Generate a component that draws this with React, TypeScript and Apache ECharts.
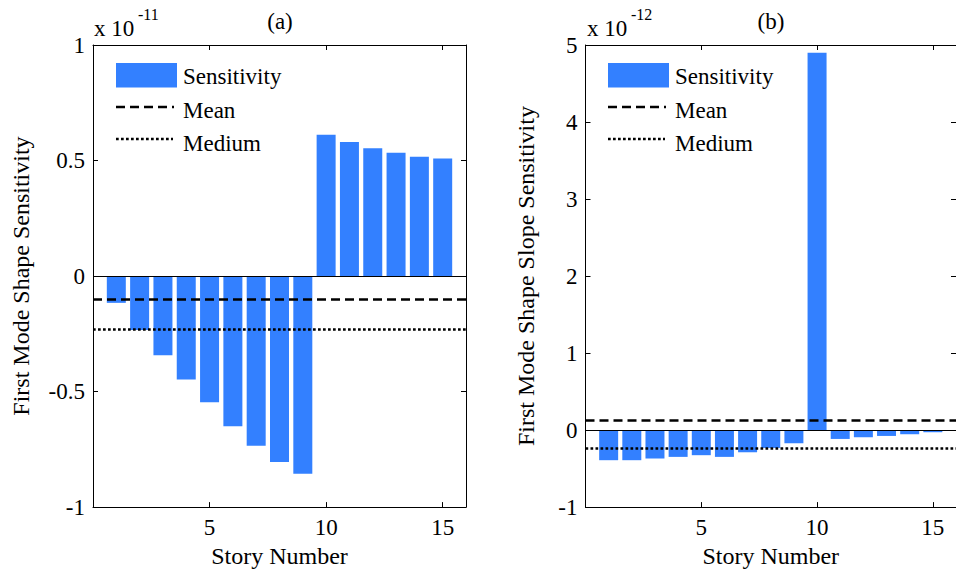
import React, { useEffect, useRef } from "react";
import * as echarts from "echarts";

// Story numbers (x axis)
const storyNumbers = [1, 2, 3, 4, 5, 6, 7, 8, 9, 10, 11, 12, 13, 14, 15];
// (a) first mode shape sensitivity, in units of 1e-11
const shapeSensitivity = [
  -0.116, -0.233, -0.343, -0.448, -0.546, -0.65, -0.734, -0.805, -0.856,
  0.612, 0.58, 0.553, 0.534, 0.516, 0.509,
];
const shapeMean = -0.097;
const shapeMedium = -0.233;
// (b) first mode shape slope sensitivity, in units of 1e-12
const slopeSensitivity = [
  -0.391, -0.391, -0.369, -0.348, -0.326, -0.348, -0.288, -0.232, -0.171,
  4.9, -0.115, -0.093, -0.076, -0.054, -0.028,
];
const slopeMean = 0.127;
const slopeMedium = -0.228;

const xTicks = [5, 10, 15];
const shapeYTicks = [-1, -0.5, 0, 0.5, 1];
const slopeYTicks = [-1, 0, 1, 2, 3, 4, 5];

const FONT = "Times New Roman, Liberation Serif, DejaVu Serif, serif";
const BAR_COLOR = "#3380ff";

function xAxes(gridIndex: number) {
  const common = {
    type: "value" as const,
    gridIndex,
    min: 0,
    max: 16,
    interval: xTicks[1] - xTicks[0],
    splitLine: { show: false },
    axisLine: { show: true, onZero: false, lineStyle: { color: "#000", width: 1 } },
    axisTick: { show: true, inside: true, length: 5, lineStyle: { color: "#000" } },
  };
  return [
    {
      ...common,
      position: "bottom",
      name: "Story Number",
      nameLocation: "middle",
      nameGap: 35,
      nameTextStyle: { fontFamily: FONT, fontSize: 24, color: "#000" },
      axisLabel: {
        show: true,
        fontFamily: FONT,
        fontSize: 23,
        color: "#000",
        margin: 9,
        showMinLabel: false,
        showMaxLabel: false,
      },
    },
    { ...common, position: "top", axisLabel: { show: false } },
  ];
}

function yAxes(gridIndex: number, ticks: number[], name: string, gap: number) {
  const common = {
    type: "value" as const,
    gridIndex,
    min: ticks[0],
    max: ticks[ticks.length - 1],
    interval: ticks[1] - ticks[0],
    splitLine: { show: false },
    axisLine: { show: true, onZero: false, lineStyle: { color: "#000", width: 1 } },
    axisTick: { show: true, inside: true, length: 5, lineStyle: { color: "#000" } },
  };
  return [
    {
      ...common,
      position: "left",
      name,
      nameLocation: "middle",
      nameGap: gap,
      nameTextStyle: { fontFamily: FONT, fontSize: 24, color: "#000" },
      axisLabel: {
        show: true,
        fontFamily: FONT,
        fontSize: 23,
        color: "#000",
        margin: 8,
        formatter: (v: number) => String(v),
      },
    },
    { ...common, position: "right", axisLabel: { show: false } },
  ];
}

function barSeries(idx: number, values: number[], mean: number, medium: number) {
  return {
    type: "bar",
    xAxisIndex: idx * 2,
    yAxisIndex: idx * 2,
    barWidth: 19,
    itemStyle: { color: BAR_COLOR },
    data: storyNumbers.map((s, i) => [s, values[i]]),
    markLine: {
      silent: true,
      symbol: ["none", "none"],
      label: { show: false },
      animation: false,
      data: [
        { yAxis: 0, lineStyle: { color: "#000", width: 1, type: "solid" } },
        { yAxis: mean, lineStyle: { color: "#000", width: 2.5, type: [9, 5] } },
        { yAxis: medium, lineStyle: { color: "#000", width: 2.5, type: [2.7, 2.3] } },
      ],
    },
  };
}

function legendGraphics(x0: number) {
  const textStyle = { fontFamily: FONT, fontSize: 23, fill: "#000", verticalAlign: "middle" };
  return [
    { type: "rect", shape: { x: x0, y: 63, width: 61, height: 24.5 }, style: { fill: BAR_COLOR } },
    {
      type: "line",
      shape: { x1: x0, y1: 107, x2: x0 + 58, y2: 107 },
      style: { stroke: "#000", lineWidth: 2.5, lineDash: [9, 5] },
    },
    {
      type: "line",
      shape: { x1: x0, y1: 139, x2: x0 + 57, y2: 139 },
      style: { stroke: "#000", lineWidth: 2.5, lineDash: [2.7, 2.3] },
    },
    { type: "text", x: x0 + 67, y: 76, style: { ...textStyle, text: "Sensitivity" } },
    { type: "text", x: x0 + 67, y: 110, style: { ...textStyle, text: "Mean" } },
    { type: "text", x: x0 + 67, y: 143, style: { ...textStyle, text: "Medium" } },
  ];
}

function headerGraphics(xLeft: number, exp: string, title: string, titleX: number) {
  return [
    {
      type: "text",
      x: xLeft,
      y: 28,
      style: { text: "x 10", fontFamily: FONT, fontSize: 23, fill: "#000", verticalAlign: "middle" },
    },
    {
      type: "text",
      x: xLeft + 44,
      y: 14,
      style: { text: exp, fontFamily: FONT, fontSize: 16, fill: "#000", verticalAlign: "middle" },
    },
    {
      type: "text",
      x: titleX,
      y: 21,
      style: {
        text: title,
        fontFamily: FONT,
        fontSize: 23,
        fill: "#000",
        align: "center",
        verticalAlign: "middle",
      },
    },
  ];
}

export default function App() {
  const ref = useRef<HTMLDivElement>(null);
  useEffect(() => {
    document.body.style.margin = "0";
    if (!ref.current) return;
    const chart = echarts.init(ref.current, undefined, { renderer: "svg" });
    chart.setOption({
      animation: false,
      backgroundColor: "#fff",
      textStyle: { fontFamily: FONT },
      grid: [
        { left: 93, top: 45, width: 373, height: 464 },
        { left: 585.5, top: 45, width: 374, height: 464 },
      ],
      xAxis: [...xAxes(0), ...xAxes(1)],
      yAxis: [
        ...yAxes(0, shapeYTicks, "First Mode Shape Sensitivity", 60),
        ...yAxes(1, slopeYTicks, "First Mode Shape Slope Sensitivity", 48),
      ],
      series: [
        barSeries(0, shapeSensitivity, shapeMean, shapeMedium),
        barSeries(1, slopeSensitivity, slopeMean, slopeMedium),
      ],
      graphic: [
        ...legendGraphics(116),
        ...legendGraphics(608),
        ...headerGraphics(94, "-11", "(a)", 280),
        ...headerGraphics(587, "-12", "(b)", 771),
      ],
    });
    return () => chart.dispose();
  }, []);
  return <div ref={ref} style={{ width: 956, height: 573 }} />;
}
